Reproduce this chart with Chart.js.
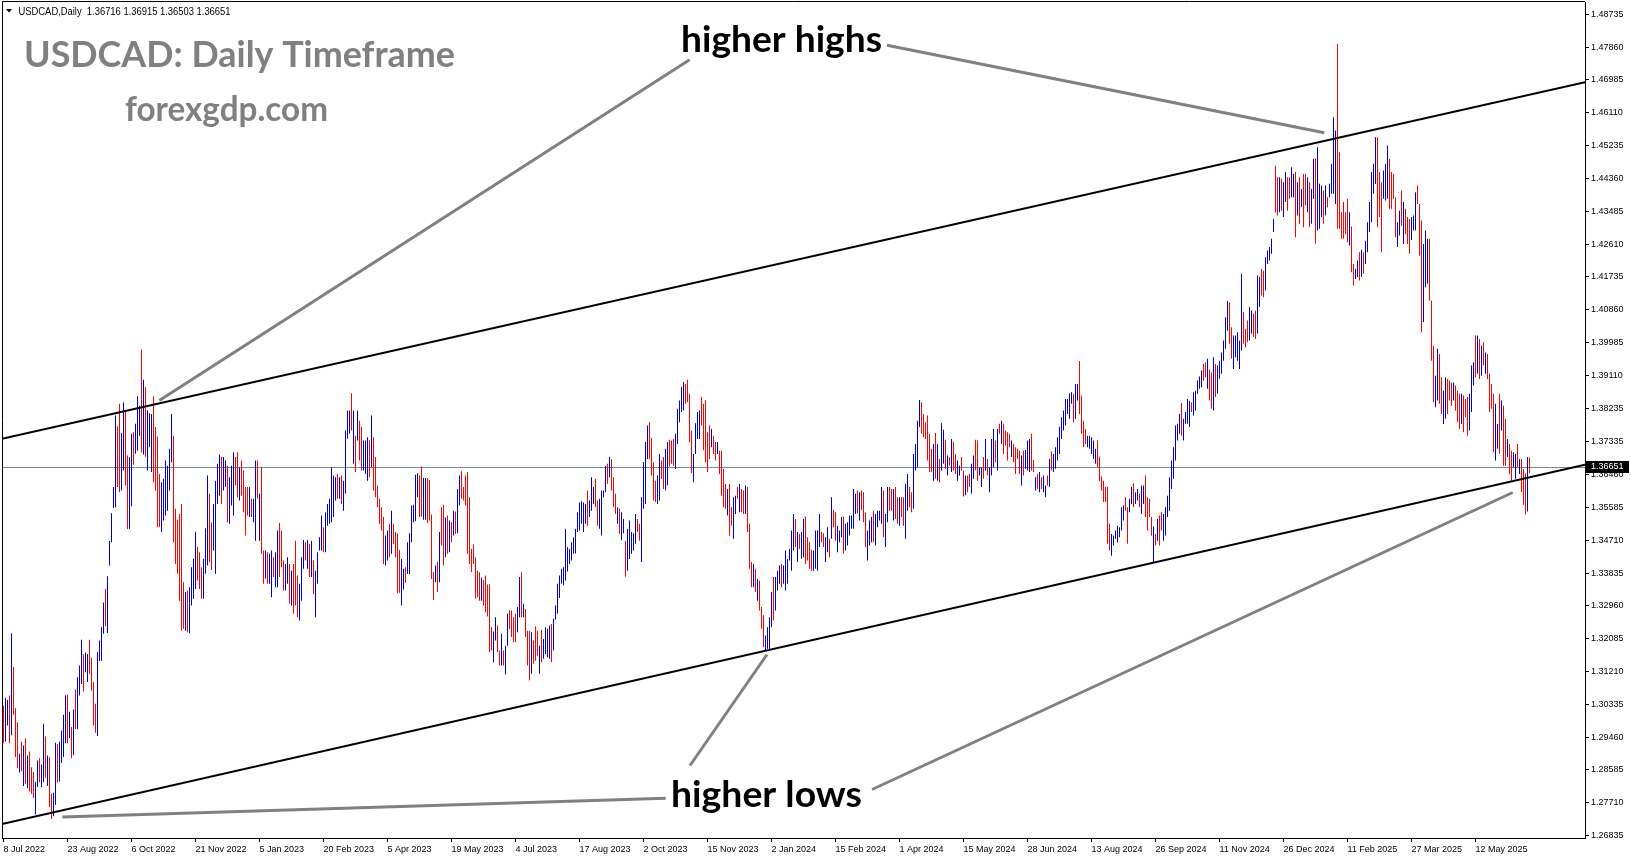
<!DOCTYPE html>
<html><head><meta charset="utf-8">
<script src="https://cdn.jsdelivr.net/npm/chart.js@4.4.1/dist/chart.umd.min.js"></script>
<style>html,body{margin:0;padding:0;background:#fff;overflow:hidden}canvas{display:block}</style>
</head><body>
<canvas id="c" width="1631" height="861"></canvas>
<script>
// ---- Data ----
const highs = [
1.3030,1.3051,1.3046,1.3057,1.3223,1.3133,1.3023,1.2986,1.2902,1.2934,
1.2924,1.2943,1.2897,1.2908,1.2866,1.2853,1.2827,1.2884,1.2890,1.2873,
1.2982,1.2948,1.2897,1.2893,1.2795,1.2798,1.2931,1.2928,1.2934,1.2964,
1.3006,1.3058,1.3060,1.3014,1.2973,1.3020,1.3073,1.3106,1.3137,1.3206,
1.3167,1.3172,1.3168,1.3206,1.3158,1.3093,1.3035,1.3173,1.3204,1.3239,
1.3305,1.3342,1.3375,1.3469,1.3543,1.3613,1.3804,1.3775,1.3835,1.3757,
1.3839,1.3813,1.3697,1.3693,1.3755,1.3759,1.3782,1.3855,1.3830,1.3980,
1.3899,1.3879,1.3817,1.3810,1.3808,1.3855,1.3773,1.3748,1.3648,1.3626,
1.3635,1.3684,1.3670,1.3715,1.3808,1.3750,1.3555,1.3526,1.3541,1.3568,
1.3359,1.3333,1.3337,1.3346,1.3399,1.3422,1.3494,1.3454,1.3439,1.3399,
1.3422,1.3503,1.3644,1.3595,1.3519,1.3568,1.3630,1.3675,1.3700,1.3694,
1.3693,1.3684,1.3670,1.3639,1.3670,1.3706,1.3693,1.3706,1.3666,1.3684,
1.3657,1.3613,1.3613,1.3613,1.3582,1.3582,1.3684,1.3684,1.3595,1.3666,
1.3444,1.3444,1.3439,1.3435,1.3444,1.3426,1.3439,1.3497,1.3517,1.3497,
1.3417,1.3408,1.3426,1.3408,1.3390,1.3408,1.3470,1.3377,1.3355,1.3426,
1.3472,1.3466,1.3472,1.3461,1.3470,1.3417,1.3390,1.3439,1.3479,1.3537,
1.3506,1.3546,1.3568,1.3582,1.3666,1.3644,1.3639,1.3648,1.3639,1.3644,
1.3630,1.3764,1.3817,1.3817,1.3863,1.3817,1.3750,1.3817,1.3790,1.3773,
1.3737,1.3737,1.3746,1.3737,1.3804,1.3746,1.3693,1.3617,1.3582,1.3559,
1.3533,1.3484,1.3497,1.3515,1.3550,1.3515,1.3493,1.3490,1.3445,1.3421,
1.3395,1.3399,1.3466,1.3490,1.3564,1.3566,1.3646,1.3650,1.3644,1.3668,
1.3637,1.3637,1.3637,1.3632,1.3540,1.3386,1.3404,1.3414,1.3493,1.3559,
1.3566,1.3532,1.3537,1.3524,1.3519,1.3550,1.3548,1.3608,1.3644,1.3655,
1.3613,1.3644,1.3653,1.3586,1.3448,1.3460,1.3426,1.3390,1.3386,1.3372,
1.3365,1.3377,1.3353,1.3353,1.3239,1.3228,1.3266,1.3244,1.3177,1.3222,
1.3177,1.3190,1.3275,1.3284,1.3284,1.3266,1.3275,1.3293,1.3373,1.3386,
1.3302,1.3288,1.3230,1.3230,1.3226,1.3204,1.3241,1.3230,1.3190,1.3232,
1.3208,1.3239,1.3235,1.3244,1.3248,1.3262,1.3297,1.3355,1.3377,1.3395,
1.3399,1.3502,1.3453,1.3448,1.3466,1.3479,1.3502,1.3546,1.3572,1.3575,
1.3572,1.3568,1.3604,1.3577,1.3639,1.3613,1.3635,1.3577,1.3582,1.3604,
1.3604,1.3670,1.3675,1.3694,1.3688,1.3639,1.3595,1.3559,1.3555,1.3546,
1.3528,1.3470,1.3502,1.3524,1.3493,1.3490,1.3541,1.3528,1.3515,1.3586,
1.3679,1.3733,1.3777,1.3786,1.3744,1.3679,1.3630,1.3644,1.3701,1.3684,
1.3693,1.3715,1.3733,1.3739,1.3737,1.3741,1.3755,1.3822,1.3844,1.3880,
1.3893,1.3888,1.3899,1.3862,1.3764,1.3701,1.3783,1.3813,1.3817,1.3854,
1.3835,1.3844,1.3759,1.3777,1.3768,1.3750,1.3733,1.3733,1.3710,1.3710,
1.3661,1.3621,1.3608,1.3621,1.3559,1.3586,1.3590,1.3613,1.3621,1.3608,
1.3604,1.3617,1.3613,1.3515,1.3413,1.3408,1.3395,1.3368,1.3364,1.3293,
1.3271,1.3217,1.3239,1.3266,1.3333,1.3373,1.3373,1.3390,1.3404,1.3408,
1.3404,1.3444,1.3421,1.3448,1.3497,1.3541,1.3528,1.3493,1.3488,1.3493,
1.3528,1.3534,1.3479,1.3466,1.3446,1.3444,1.3497,1.3497,1.3541,1.3493,
1.3490,1.3479,1.3506,1.3475,1.3586,1.3552,1.3546,1.3510,1.3497,1.3533,
1.3534,1.3515,1.3519,1.3537,1.3537,1.3608,1.3595,1.3604,1.3599,1.3604,
1.3599,1.3546,1.3497,1.3524,1.3533,1.3550,1.3541,1.3550,1.3550,1.3613,
1.3604,1.3541,1.3613,1.3613,1.3608,1.3608,1.3613,1.3586,1.3586,1.3586,
1.3586,1.3622,1.3648,1.3613,1.3599,1.3701,1.3728,1.3790,1.3845,1.3839,
1.3808,1.3786,1.3804,1.3755,1.3715,1.3728,1.3757,1.3728,1.3688,1.3783,
1.3766,1.3739,1.3697,1.3693,1.3741,1.3734,1.3701,1.3684,1.3670,1.3693,
1.3657,1.3644,1.3644,1.3648,1.3675,1.3697,1.3739,1.3737,1.3666,1.3666,
1.3693,1.3741,1.3688,1.3666,1.3741,1.3768,1.3737,1.3768,1.3782,1.3790,
1.3782,1.3764,1.3759,1.3755,1.3737,1.3728,1.3719,1.3715,1.3710,1.3697,
1.3710,1.3712,1.3737,1.3741,1.3755,1.3686,1.3639,1.3648,1.3653,1.3639,
1.3644,1.3617,1.3644,1.3688,1.3708,1.3701,1.3719,1.3746,1.3774,1.3799,
1.3817,1.3848,1.3848,1.3863,1.3866,1.3862,1.3888,1.3888,1.3949,1.3857,
1.3790,1.3768,1.3750,1.3750,1.3746,1.3737,1.3715,1.3737,1.3694,1.3641,
1.3630,1.3613,1.3614,1.3515,1.3488,1.3484,1.3497,1.3510,1.3506,1.3559,
1.3564,1.3586,1.3559,1.3582,1.3613,1.3623,1.3599,1.3608,1.3595,1.3617,
1.3617,1.3644,1.3586,1.3582,1.3533,1.3508,1.3488,1.3528,1.3537,1.3546,
1.3541,1.3559,1.3590,1.3639,1.3684,1.3719,1.3777,1.3782,1.3808,1.3837,
1.3795,1.3813,1.3848,1.3843,1.3839,1.3866,1.3870,1.3897,1.3908,1.3924,
1.3941,1.3946,1.3955,1.3926,1.3919,1.3959,1.3941,1.3937,1.3950,1.3972,
1.4004,1.4066,1.4109,1.4106,1.4039,1.4017,1.4017,1.4026,1.4004,1.4182,
1.4079,1.4035,1.4057,1.4093,1.4084,1.4075,1.4084,1.4177,1.4173,1.4195,
1.4190,1.4226,1.4244,1.4253,1.4275,1.4328,1.4470,1.4439,1.4439,1.4435,
1.4426,1.4453,1.4439,1.4439,1.4466,1.4448,1.4453,1.4426,1.4439,1.4408,
1.4448,1.4448,1.4439,1.4426,1.4408,1.4488,1.4490,1.4519,1.4422,1.4417,
1.4404,1.4417,1.4386,1.4422,1.4475,1.4599,1.4564,1.4795,1.4506,1.4346,
1.4373,1.4346,1.4382,1.4346,1.4308,1.4208,1.4195,1.4217,1.4239,1.4246,
1.4239,1.4270,1.4319,1.4373,1.4453,1.4475,1.4546,1.4546,1.4453,1.4426,
1.4457,1.4475,1.4524,1.4488,1.4453,1.4448,1.4386,1.4319,1.4350,1.4404,
1.4373,1.4355,1.4333,1.4328,1.4333,1.4337,1.4399,1.4417,1.4368,1.4324,
1.4261,1.4297,1.4275,1.4275,1.4110,1.3990,1.3910,1.3982,1.3968,1.3906,
1.3870,1.3906,1.3901,1.3897,1.3892,1.3892,1.3884,1.3870,1.3862,1.3862,
1.3857,1.3848,1.3853,1.3862,1.3937,1.3946,1.4017,1.4017,1.4008,1.3990,
1.3999,1.3972,1.3968,1.3915,1.3888,1.3862,1.3835,1.3781,1.3862,1.3844,
1.3830,1.3795,1.3741,1.3728,1.3710,1.3706,1.3701,1.3728,1.3688,1.3688,
1.3660,1.3650,1.3693,1.36915];

const lows = [
1.2930,1.2934,1.2977,1.2930,1.2951,1.3006,1.2893,1.2863,1.2852,1.2855,
1.2816,1.2822,1.2810,1.2801,1.2795,1.2784,1.2740,1.2813,1.2826,1.2813,
1.2826,1.2838,1.2816,1.2760,1.2728,1.2735,1.2765,1.2825,1.2828,1.2877,
1.2893,1.2930,1.2930,1.2944,1.2890,1.2898,1.2968,1.2967,1.3057,1.3088,
1.3068,1.3119,1.3093,1.3115,1.3070,1.2977,1.2958,1.2949,1.3149,1.3150,
1.3222,1.3242,1.3224,1.3404,1.3466,1.3557,1.3559,1.3613,1.3599,1.3604,
1.3657,1.3617,1.3501,1.3501,1.3562,1.3673,1.3702,1.3710,1.3750,1.3706,
1.3700,1.3694,1.3657,1.3719,1.3653,1.3626,1.3604,1.3506,1.3506,1.3493,
1.3524,1.3537,1.3550,1.3604,1.3679,1.3466,1.3408,1.3382,1.3310,1.3230,
1.3235,1.3230,1.3226,1.3223,1.3297,1.3315,1.3341,1.3364,1.3341,1.3315,
1.3315,1.3382,1.3404,1.3413,1.3392,1.3444,1.3382,1.3568,1.3590,1.3568,
1.3604,1.3613,1.3519,1.3515,1.3564,1.3537,1.3617,1.3586,1.3577,1.3590,
1.3546,1.3484,1.3537,1.3533,1.3533,1.3519,1.3470,1.3582,1.3470,1.3435,
1.3355,1.3369,1.3355,1.3355,1.3319,1.3373,1.3346,1.3346,1.3373,1.3399,
1.3337,1.3337,1.3355,1.3302,1.3297,1.3275,1.3297,1.3266,1.3257,1.3310,
1.3395,1.3417,1.3395,1.3373,1.3373,1.3328,1.3266,1.3355,1.3444,1.3444,
1.3439,1.3439,1.3510,1.3515,1.3519,1.3533,1.3577,1.3582,1.3582,1.3568,
1.3550,1.3595,1.3742,1.3755,1.3764,1.3675,1.3653,1.3737,1.3684,1.3657,
1.3657,1.3648,1.3630,1.3639,1.3666,1.3604,1.3586,1.3559,1.3515,1.3497,
1.3408,1.3404,1.3417,1.3426,1.3435,1.3461,1.3426,1.3330,1.3331,1.3297,
1.3339,1.3357,1.3381,1.3381,1.3466,1.3519,1.3522,1.3586,1.3533,1.3534,
1.3526,1.3526,1.3517,1.3524,1.3368,1.3312,1.3359,1.3333,1.3359,1.3457,
1.3404,1.3426,1.3435,1.3439,1.3466,1.3484,1.3488,1.3490,1.3564,1.3582,
1.3577,1.3564,1.3435,1.3408,1.3386,1.3408,1.3315,1.3319,1.3310,1.3310,
1.3297,1.3279,1.3268,1.3173,1.3177,1.3146,1.3204,1.3173,1.3137,1.3137,
1.3137,1.3113,1.3190,1.3235,1.3213,1.3199,1.3199,1.3226,1.3266,1.3266,
1.3266,1.3213,1.3137,1.3097,1.3115,1.3142,1.3150,1.3164,1.3115,1.3146,
1.3155,1.3168,1.3159,1.3155,1.3146,1.3177,1.3259,1.3275,1.3317,1.3355,
1.3351,1.3364,1.3388,1.3408,1.3417,1.3435,1.3436,1.3493,1.3497,1.3515,
1.3493,1.3515,1.3510,1.3533,1.3550,1.3568,1.3559,1.3510,1.3502,1.3484,
1.3586,1.3599,1.3622,1.3639,1.3604,1.3559,1.3541,1.3515,1.3488,1.3471,
1.3490,1.3374,1.3390,1.3421,1.3435,1.3444,1.3462,1.3493,1.3470,1.3413,
1.3555,1.3568,1.3688,1.3688,1.3644,1.3577,1.3573,1.3568,1.3577,1.3635,
1.3608,1.3604,1.3617,1.3668,1.3675,1.3670,1.3661,1.3728,1.3786,1.3813,
1.3817,1.3835,1.3839,1.3733,1.3650,1.3626,1.3701,1.3741,1.3741,1.3777,
1.3711,1.3679,1.3653,1.3688,1.3719,1.3701,1.3684,1.3701,1.3648,1.3590,
1.3559,1.3555,1.3537,1.3484,1.3510,1.3475,1.3541,1.3582,1.3546,1.3546,
1.3541,1.3541,1.3493,1.3395,1.3346,1.3346,1.3333,1.3310,1.3284,1.3235,
1.3186,1.3177,1.3182,1.3182,1.3239,1.3257,1.3284,1.3337,1.3355,1.3346,
1.3355,1.3337,1.3355,1.3417,1.3390,1.3444,1.3453,1.3413,1.3448,1.3422,
1.3426,1.3408,1.3417,1.3395,1.3390,1.3390,1.3395,1.3390,1.3453,1.3466,
1.3453,1.3413,1.3439,1.3426,1.3475,1.3506,1.3470,1.3439,1.3466,1.3479,
1.3435,1.3444,1.3457,1.3484,1.3502,1.3502,1.3541,1.3543,1.3524,1.3552,
1.3519,1.3453,1.3417,1.3457,1.3466,1.3466,1.3457,1.3506,1.3524,1.3515,
1.3479,1.3453,1.3519,1.3550,1.3550,1.3524,1.3528,1.3515,1.3510,1.3533,
1.3510,1.3475,1.3550,1.3559,1.3546,1.3555,1.3657,1.3666,1.3773,1.3755,
1.3746,1.3741,1.3684,1.3653,1.3653,1.3630,1.3635,1.3630,1.3626,1.3657,
1.3675,1.3662,1.3644,1.3670,1.3653,1.3657,1.3648,1.3630,1.3644,1.3657,
1.3588,1.3591,1.3599,1.3613,1.3595,1.3635,1.3657,1.3630,1.3644,1.3613,
1.3635,1.3657,1.3644,1.3599,1.3644,1.3666,1.3679,1.3657,1.3755,1.3728,
1.3701,1.3724,1.3684,1.3719,1.3693,1.3679,1.3648,1.3688,1.3648,1.3617,
1.3644,1.3662,1.3657,1.3653,1.3657,1.3653,1.3604,1.3608,1.3599,1.3608,
1.3599,1.3586,1.3617,1.3613,1.3657,1.3653,1.3662,1.3684,1.3701,1.3741,
1.3764,1.3777,1.3808,1.3795,1.3835,1.3786,1.3795,1.3844,1.3808,1.3755,
1.3719,1.3728,1.3719,1.3715,1.3701,1.3688,1.3675,1.3666,1.3629,1.3604,
1.3573,1.3573,1.3462,1.3444,1.3430,1.3457,1.3475,1.3466,1.3479,1.3497,
1.3524,1.3550,1.3462,1.3546,1.3568,1.3559,1.3568,1.3577,1.3559,1.3541,
1.3568,1.3533,1.3497,1.3533,1.3484,1.3413,1.3457,1.3470,1.3457,1.3497,
1.3470,1.3484,1.3533,1.3550,1.3608,1.3635,1.3684,1.3737,1.3755,1.3750,
1.3737,1.3782,1.3782,1.3773,1.3813,1.3804,1.3817,1.3862,1.3875,1.3879,
1.3897,1.3906,1.3875,1.3844,1.3822,1.3817,1.3853,1.3862,1.3902,1.3915,
1.3950,1.3982,1.4030,1.3995,1.3955,1.3928,1.3959,1.3950,1.3928,1.3977,
1.3995,1.3986,1.3999,1.4004,1.4022,1.4013,1.4008,1.4022,1.4093,1.4124,
1.4119,1.4137,1.4208,1.4217,1.4235,1.4293,1.4346,1.4337,1.4346,1.4350,
1.4333,1.4373,1.4350,1.4382,1.4386,1.4386,1.4279,1.4337,1.4315,1.4359,
1.4306,1.4364,1.4346,1.4306,1.4315,1.4382,1.4262,1.4297,1.4302,1.4333,
1.4315,1.4337,1.4359,1.4386,1.4395,1.4395,1.4368,1.4302,1.4302,1.4275,
1.4275,1.4288,1.4266,1.4257,1.4186,1.4150,1.4168,1.4173,1.4164,1.4173,
1.4182,1.4208,1.4239,1.4293,1.4319,1.4395,1.4421,1.4306,1.4333,1.4239,
1.4382,1.4377,1.4382,1.4355,1.4355,1.4382,1.4279,1.4253,1.4284,1.4310,
1.4261,1.4288,1.4261,1.4235,1.4272,1.4297,1.4297,1.4368,1.4230,1.4026,
1.4053,1.4146,1.4155,1.4110,1.3950,1.3839,1.3826,1.3844,1.3835,1.3808,
1.3781,1.3795,1.3808,1.3844,1.3830,1.3844,1.3817,1.3786,1.3768,1.3781,
1.3759,1.3799,1.3750,1.3764,1.3813,1.3884,1.3906,1.3915,1.3901,1.3910,
1.3937,1.3915,1.3901,1.3813,1.3822,1.3706,1.3684,1.3715,1.3702,1.3764,
1.3670,1.3670,1.3693,1.3648,1.3630,1.3666,1.3635,1.3666,1.3648,1.3600,
1.3565,1.3540,1.3548,1.36503];

// 1 = bullish bar (blue), 0 = bearish bar (red)
const upBars = [
0,1,1,0,1,0,0,0,1,0, 1,0,1,0,0,0,1,1,0,1, 1,0,1,0,0,1,1,0,1,1, 1,1,0,1,0,1,0,1,1,1,
0,1,1,0,0,0,0,1,1,1, 1,0,1,1,1,1,1,0,0,1, 1,0,0,1,1,0,1,1,1,0, 1,0,1,1,1,0,0,0,0,1,
1,1,1,1,1,0,0,0,0,0, 0,1,0,1,1,1,1,0,0,0, 1,1,1,0,0,1,1,1,1,0, 1,1,0,1,1,1,0,0,1,0,
0,0,0,1,0,1,1,0,1,0, 0,1,0,1,1,0,1,1,0,0, 0,1,1,0,1,0,0,0,1,1, 1,0,1,0,1,0,1,1,1,1,
0,1,1,1,1,1,1,0,1,0, 1,1,1,1,0,1,0,1,0,0, 1,1,1,0,1,0,0,0,0,0, 0,1,1,0,1,0,0,0,0,1,
1,0,1,1,1,1,1,1,0,0, 1,1,0,0,0,0,1,0,1,0, 0,1,0,1,0,1,0,1,1,0, 0,0,0,0,0,0,0,0,0,1,
0,0,0,0,0,1,1,0,0,1, 0,1,1,0,0,0,0,1,1,0, 1,0,0,0,1,0,0,0,1,0, 1,1,1,1,0,1,1,1,1,1,
1,1,1,1,1,1,1,1,1,1, 1,1,0,1,1,1,0,0,1,1, 1,1,0,1,0,0,0,1,0,1, 1,0,1,1,1,1,1,0,0,1,
1,1,1,0,0,0,0,1,1,0, 0,1,1,0,0,0,1,1,1,1, 1,0,0,0,0,1,1,1,1,0, 0,0,0,0,1,0,0,1,0,0,
0,0,1,0,0,1,1,0,1,0, 0,1,0,0,0,1,0,1,0,0, 0,1,1,1,1,0,1,1,1,0, 1,1,1,1,1,1,0,1,0,1,
1,0,0,0,0,1,1,1,1,0, 0,1,1,0,1,0,0,1,1,1, 0,1,1,1,1,1,1,0,1,0, 0,0,1,1,1,0,1,1,1,1,
0,1,1,0,0,1,0,0,1,0, 0,1,1,0,0,1,1,1,1,0, 0,0,0,0,0,1,0,1,0,1, 1,0,1,0,1,0,0,1,1,0,
0,1,0,0,1,1,0,0,1,1, 0,1,0,1,1,1,0,1,0,1, 0,0,0,0,1,0,0,0,0,1, 0,1,1,1,0,0,1,0,1,0,
1,1,0,1,0,1,1,1,1,1, 1,1,1,1,1,0,1,1,0,0, 0,0,1,1,1,1,1,0,0,0, 0,0,0,0,1,1,1,1,1,1,
1,0,0,1,1,0,1,1,0,1, 1,0,0,0,0,1,0,1,0,0, 1,1,1,1,1,1,1,1,1,0, 1,1,1,1,0,1,1,1,1,1,
0,0,1,0,0,1,0,1,1,1, 1,1,1,0,0,1,1,1,1,1, 0,0,0,1,1,0,0,1,1,0, 0,1,1,1,1,1,0,0,1,0,
1,1,0,0,1,1,0,1,0,1, 0,0,1,0,1,1,0,1,1,1, 0,1,0,1,1,1,1,0,0,0, 0,0,0,1,0,0,1,1,0,1,
0,1,1,1,1,1,1,0,0,0, 1,1,1,0,0,0,0,1,1,0, 1,0,0,0,1,1,1,0,0,0, 1,1,1,0,0,0,1,1,0,0,
1,1,0,0,0,1,0,0,0,1, 0,0,0,1,1,1,0,1,0,1, 0,1,0,0,0,0,1,1,0,1, 0,0,1,0,0,1,1,0,1,0,
0,0,1,0];

const dateLabels = ["8 Jul 2022","23 Aug 2022","6 Oct 2022","21 Nov 2022","5 Jan 2023","20 Feb 2023",
  "5 Apr 2023","19 May 2023","4 Jul 2023","17 Aug 2023","2 Oct 2023","15 Nov 2023","2 Jan 2024",
  "15 Feb 2024","1 Apr 2024","15 May 2024","28 Jun 2024","13 Aug 2024","26 Sep 2024","11 Nov 2024",
  "26 Dec 2024","11 Feb 2025","27 Mar 2025","12 May 2025"];
const dateTickBars = [0,32,64,96,128,160,192,224,256,288,320,352,384,416,448,480,512,544,576,608,640,672,704,736];

const priceTicks = [1.48735,1.47860,1.46985,1.46110,1.45235,1.44360,1.43485,1.42610,1.41735,1.40860,
  1.39985,1.39110,1.38235,1.37335,1.36460,1.35585,1.34710,1.33835,1.32960,1.32085,1.31210,1.30335,
  1.29460,1.28585,1.27710,1.26835];

const lastPrice = 1.36651;
const headerText = "USDCAD,Daily  1.36716 1.36915 1.36503 1.36651";

// trend channel lines (bar index, price)
const upperChannel = [[-0.75, 1.37418], [790.75, 1.46928]];
const lowerChannel = [[-0.75, 1.27144], [790.75, 1.36726]];
// grey pointer lines
const pointerLines = [
  [[343.05, 1.47523], [77.9, 1.38438]],
  [[441.75, 1.47912], [660.4, 1.45576]],
  [[331.1, 1.27830], [29.45, 1.27331]],
  [[343.25, 1.28704], [381.75, 1.31664]],
  [[434.25, 1.28064], [754.6, 1.35984]]
];

// ---- axis ranges ----
const X_MIN = -0.75, X_MAX = 790.75;
const Y_MAX = 1.490643, Y_MIN = 1.26771;

const BLUE = '#0000d0', RED = '#ff0000';

function fitText(ctx, str, font, color, x, baseline, width) {
  ctx.save();
  ctx.font = font; ctx.fillStyle = color; ctx.textAlign = 'left'; ctx.textBaseline = 'alphabetic';
  const w = ctx.measureText(str).width;
  ctx.translate(x, baseline);
  ctx.scale(width / w, 1);
  ctx.fillText(str, 0, 0);
  ctx.restore();
}

const overlay = {
  id: 'overlay',
  afterDraw(chart) {
    const ctx = chart.ctx, a = chart.chartArea;
    const ys = chart.scales.y;
    ctx.save();
    // frame (left / top)
    ctx.strokeStyle = '#000'; ctx.lineWidth = 1;
    ctx.beginPath();
    ctx.moveTo(a.left + 0.5, a.bottom); ctx.lineTo(a.left + 0.5, a.top - 0.5);
    ctx.lineTo(a.right, a.top - 0.5);
    ctx.stroke();
    // header
    ctx.fillStyle = '#000';
    ctx.beginPath(); ctx.moveTo(6, 9); ctx.lineTo(12, 9); ctx.lineTo(9, 12.5); ctx.closePath(); ctx.fill();
    fitText(ctx, headerText, '10px "Liberation Sans"', '#000', 18.5, 14.5, 212);
    // titles
    fitText(ctx, 'USDCAD: Daily Timeframe', 'bold 37px Lato', '#808080', 24, 66.5, 431);
    fitText(ctx, 'forexgdp.com', 'bold 34px Lato', '#808080', 125, 120.5, 203);
    // annotations
    fitText(ctx, 'higher highs', 'bold 36px Lato', '#000', 681, 52, 201);
    fitText(ctx, 'higher lows', 'bold 36px Lato', '#000', 671, 807, 191);
    // last price label
    const py = Math.round(ys.getPixelForValue(lastPrice));
    ctx.fillStyle = '#000';
    ctx.fillRect(a.right + 1, py - 6, 43, 12);
    ctx.fillStyle = '#fff';
    ctx.font = '9px "Liberation Sans"'; ctx.textBaseline = 'middle'; ctx.textAlign = 'left';
    ctx.fillText(lastPrice.toFixed(5), a.right + 6, py);
    ctx.restore();
  }
};

function build() {
  const lineDs = (pts, color, width, order) => ({
    type: 'line', data: pts.map(p => ({x: p[0], y: p[1]})),
    borderColor: color, borderWidth: width, pointRadius: 0, fill: false,
    tension: 0, order: order, borderCapStyle: 'butt'
  });
  const datasets = [];
  pointerLines.forEach(l => datasets.push(lineDs(l, '#808080', 3, 0)));
  datasets.push(lineDs(upperChannel, '#000', 2, 1));
  datasets.push(lineDs(lowerChannel, '#000', 2, 1));
  datasets.push({
    type: 'bar',
    data: highs.map((h, i) => ({x: i, y: [lows[i], h]})),
    backgroundColor: upBars.map(u => u ? BLUE : RED),
    borderWidth: 0, barThickness: 1, inflateAmount: 0, order: 5
  });
  datasets.push(lineDs([[X_MIN, lastPrice], [X_MAX, lastPrice]], '#778899', 1, 6));

  new Chart(document.getElementById('c').getContext('2d'), {
    type: 'bar',
    data: { datasets },
    options: {
      responsive: false, animation: false, devicePixelRatio: 1,
      events: [],
      layout: { padding: { left: 2, top: 2, right: 0, bottom: 0 } },
      plugins: { legend: { display: false }, tooltip: { enabled: false } },
      scales: {
        x: {
          type: 'linear', min: X_MIN, max: X_MAX, offset: false,
          grid: { display: true, drawOnChartArea: false, drawTicks: true, tickLength: 4, color: '#000', offset: false },
          border: { display: true, color: '#000', width: 1 },
          ticks: {
            autoSkip: false, maxRotation: 0, minRotation: 0, align: 'start', padding: 2,
            color: '#000', font: { family: 'Liberation Sans', size: 9 },
            callback: v => { const k = dateTickBars.indexOf(v); return k >= 0 ? dateLabels[k] : ''; }
          },
          afterBuildTicks: s => { s.ticks = dateTickBars.map(v => ({ value: v })); },
          afterFit: s => { s.height = 23; s.paddingLeft = 0; s.paddingRight = 0; s.paddingTop = 0; s.paddingBottom = 0; }
        },
        y: {
          type: 'linear', position: 'right', min: Y_MIN, max: Y_MAX,
          grid: { display: true, drawOnChartArea: false, drawTicks: true, tickLength: 4, color: '#000' },
          border: { display: true, color: '#000', width: 1 },
          ticks: {
            autoSkip: false, padding: 2, color: '#000', font: { family: 'Liberation Sans', size: 9 },
            callback: v => v.toFixed(5)
          },
          afterBuildTicks: s => { s.ticks = priceTicks.map(v => ({ value: v })); },
          afterFit: s => { s.width = 46; s.paddingLeft = 0; s.paddingRight = 0; s.paddingTop = 0; s.paddingBottom = 0; }
        }
      }
    },
    plugins: [overlay]
  });
}

const fontLoads = [
  document.fonts.load('bold 36px Lato'),
  document.fonts.load('10px "Liberation Sans"')
];
Promise.race([Promise.all(fontLoads), new Promise(r => setTimeout(r, 800))]).then(build, build);
</script>
</body></html>
